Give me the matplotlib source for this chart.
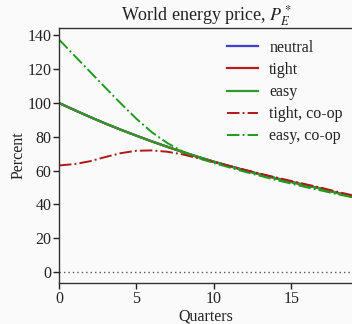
import numpy as np
import matplotlib
matplotlib.use("Agg")
import matplotlib.pyplot as plt

plt.rcParams['font.family'] = ['Liberation Serif', 'DejaVu Serif']
plt.rcParams['mathtext.fontset'] = 'stix'

quarters = np.arange(20)

# baseline path, shared by the three policy stances
neutral = [100.0, 95.8, 91.7, 87.8, 84.1, 80.6, 77.2, 74.0, 70.9, 68.0,
           65.2, 62.6, 60.1, 57.7, 55.4, 53.2, 51.1, 49.1, 46.6, 44.3]
tight = neutral
easy = neutral
tight_coop = [63.0, 63.8, 65.5, 68.0, 70.3, 71.7, 71.9, 71.1, 69.5, 67.2,
              64.9, 62.7, 60.4, 58.1, 55.9, 53.8, 51.7, 49.6, 47.3, 45.2]
easy_coop = [137.6, 128.0, 118.5, 109.0, 99.6, 90.6, 82.6, 76.2, 71.2, 67.4,
             64.4, 61.8, 59.2, 56.8, 54.4, 52.2, 50.0, 48.0, 45.9, 44.0]

fig = plt.figure(figsize=(3.52, 3.24), dpi=100, facecolor='#fafafa')
ax = fig.add_axes([0.1676, 0.1256, 0.8366, 0.788], facecolor='#fafafa')

ax.axhline(0, color='#555555', lw=1.0, ls=(0, (1, 2.2)))
ax.plot(quarters, neutral, color='#4040cc', lw=1.6, label='neutral')
ax.plot(quarters, tight, color='#b81c1c', lw=1.6, label='tight')
ax.plot(quarters, easy, color='#2e9a2e', lw=1.6, label='easy')
ax.plot(quarters, tight_coop, color='#b01818', lw=1.4, ls='-.', label='tight, co-op')
ax.plot(quarters, easy_coop, color='#1e9a1e', lw=1.4, ls='-.', label='easy, co-op')

ax.set_xlim(0, 19)
ax.set_ylim(-6.8, 144.4)
ax.set_xticks([0, 5, 10, 15])
ax.set_yticks(np.arange(0, 141, 20))
ax.tick_params(labelsize=11.5, length=4, width=1, pad=1.5,
               colors='#222222', direction='out')
for s in ax.spines.values():
    s.set_color('#333333')
    s.set_linewidth(1.0)

ax.set_title('World energy price, $P_E^*$', fontsize=13, pad=4, color='#222222')
ax.set_xlabel('Quarters', fontsize=11.5, color='#222222', labelpad=0.8)
ax.set_ylabel('Percent', fontsize=11.5, color='#222222', labelpad=0.5)

leg = ax.legend(loc='upper left', frameon=False, fontsize=11.5, handlelength=1.95,
                handletextpad=0.7, borderpad=0, borderaxespad=0, labelspacing=0.38,
                bbox_to_anchor=(227 / 352, 1 - 40 / 324),
                bbox_transform=fig.transFigure)
for t in leg.get_texts():
    t.set_color('#222222')

fig.savefig('out.png', dpi=100, facecolor=fig.get_facecolor())
